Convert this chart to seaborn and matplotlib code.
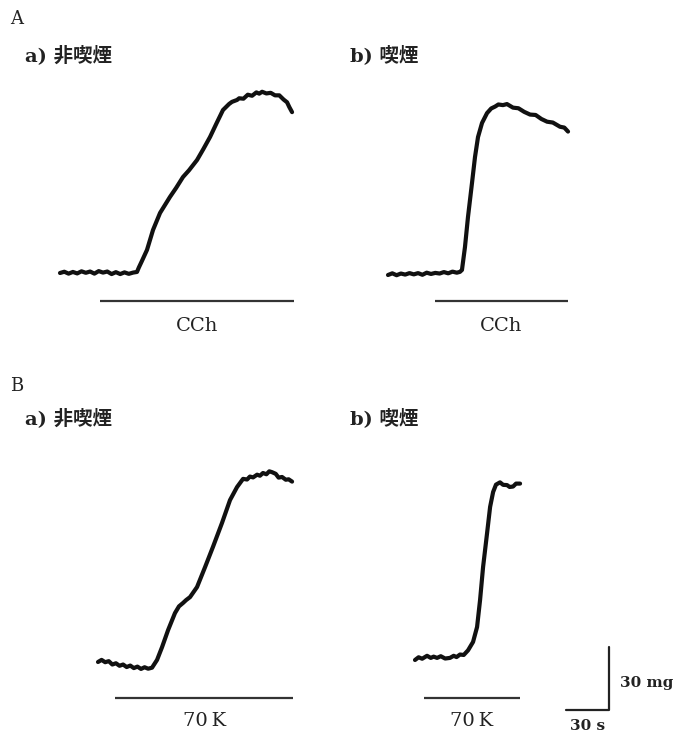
import matplotlib
matplotlib.use("Agg")
import matplotlib.pyplot as plt
import seaborn as sns

# Trazos de tensión (tiempo en s, tensión en mg sobre la línea basal)
a_ns_t = [0, 3, 6, 9, 12, 15, 18, 21, 24, 27, 30, 33, 36, 39, 42, 45, 48, 51, 53.7,
          55, 57, 60.7, 64.9, 69.8, 76.7, 81, 85.8, 90, 95.6, 100, 104.7, 109, 113.7,
          118, 120, 123.5, 125, 128, 131, 134, 137, 139, 141, 144, 147, 150, 153, 156,
          158.4, 160, 161.9]
a_ns_f = [0, 0.6, -0.3, 0.5, -0.2, 0.8, 0.1, 0.7, -0.3, 0.9, 0.2, 0.7, -0.5, 0.4, -0.5, 0.3, -0.4, 0.2, 0.5,
          2.6, 5.5, 11, 20.5, 28.6, 36.2, 40.5, 45.7, 48.9, 53.8, 59, 64.8, 71, 77.6,
          80.5, 81.5, 82.4, 83.2, 83.0, 84.9, 84.4, 86.0, 85.4, 86.3, 85.5, 85.8, 84.6, 84.6, 82.6,
          81.3, 79, 76.6]

a_s_t = [0, 3, 6, 9, 12, 15, 18, 21, 24, 27, 30, 33, 36, 39, 42, 45, 48, 50.2,
         51.6, 53.7, 55.8, 58.6, 60.7, 62.8, 65.6, 69.1, 72, 74.7, 77, 80.2, 83, 87.2,
         91, 95, 99.1, 103, 107, 111, 115, 120, 123, 125.6]
a_s_f = [0, 0.8, -0.1, 0.7, 0.2, 0.9, 0.3, 0.9, 0.1, 1.1, 0.5, 1.0, 0.7, 1.4, 0.8, 1.6, 1.1, 1.5,
         2.4, 13.3, 27.6, 43.8, 56.2, 65.7, 72.4, 77.1, 79.3, 80.2, 81.2, 80.9, 81.4, 79.7,
         79.4, 77.7, 76.4, 76.2, 74.3, 73.0, 72.6, 70.6, 70.2, 68.3]

b_ns_t = [0, 2.5, 5, 7.5, 10, 12.5, 15, 17.5, 20, 22.5, 25, 27.5, 30, 32.5, 35, 37.7,
          41.2, 44.7, 48.9, 53.7, 56.5, 59.3, 61.5, 64.2, 69.1, 74.7, 80.2, 86.5, 92.1, 97,
          101.2, 104, 106, 108.2, 111, 113, 115.1, 117.5, 119.5, 121.4, 124, 126, 128.4,
          131, 133, 135.4]
b_ns_f = [0, 1.0, -0.1, 0.4, -1.2, -0.6, -1.8, -1.2, -2.4, -1.7, -2.9, -2.2, -3.3, -2.5, -3.2, -2.7,
          1, 7.1, 15.2, 23.3, 26.5, 28.1, 29.5, 30.9, 35.7, 45.2, 54.8, 66.2, 77.1, 83.3,
          87.2, 86.9, 88.3, 87.9, 89.2, 88.7, 90.0, 89.4, 90.8, 90.4, 89.6, 87.8, 88.1,
          86.8, 87.0, 85.9]

b_s_t = [0, 2.5, 5, 8.4, 11, 13, 15.4, 18, 21, 24.4, 27, 29, 31.4, 34, 37,
         40.5, 43.3, 45.4, 47.5, 50.3, 52.4, 54.5, 56.5, 59.3, 61.5, 64.2, 66, 68.4, 70.5, 73.3]
b_s_f = [0, 1.3, 0.6, 2.0, 1.0, 1.6, 1.0, 1.8, 0.7, 1.0, 2.0, 1.4, 2.6, 2.4, 4.6,
         8.6, 15.7, 28.6, 44.3, 60.5, 72.9, 80, 83.5, 84.6, 83.4, 83.3, 82.4, 82.6, 84.0, 84.0]

# Periodo de estímulo (s)
stim_a_ns = (27.9, 163.3)
stim_a_s = (32.8, 125.6)
stim_b_ns = (11.9, 136.1)
stim_b_s = (6.3, 73.3)

panel_titles = ["a) 非喫煙", "b) 喫煙", "a) 非喫煙", "b) 喫煙"]
stim_labels = ["CCh", "CCh", "70\u2009K", "70\u2009K"]
scale_s, scale_mg = 30, 30

W, H = 674, 742
S_PX = 30 / 43   # s por pixel
M_PX = 30 / 63   # mg por pixel

sns.set_theme(style="white")
plt.rcParams["font.family"] = ["DejaVu Serif", "Noto Sans CJK JP"]

fig = plt.figure(figsize=(W / 100, H / 100), dpi=100)


# Crear un eje con escala común a partir de un origen en pixeles
def make_axes(x0, y0, box):
    left, top, right, bottom = box
    ax = fig.add_axes([left / W, 1 - bottom / H, (right - left) / W, (bottom - top) / H])
    ax.set_xlim((left - x0) * S_PX, (right - x0) * S_PX)
    ax.set_ylim((y0 - bottom) * M_PX, (y0 - top) * M_PX)
    ax.set_axis_off()
    ax.patch.set_visible(False)
    return ax


panels = [
    (a_ns_t, a_ns_f, stim_a_ns, (60, 273), (40, 70, 320, 345), 301, 326),
    (a_s_t, a_s_f, stim_a_s, (388, 275), (370, 70, 600, 345), 301, 326),
    (b_ns_t, b_ns_f, stim_b_ns, (98, 662), (80, 450, 320, 740), 698, 721),
    (b_s_t, b_s_f, stim_b_s, (415, 660), (395, 450, 540, 740), 698, 721),
]

for i, (t, f, stim, (x0, y0), box, bar_py, lab_py) in enumerate(panels):
    ax = make_axes(x0, y0, box)
    sns.lineplot(x=t, y=f, ax=ax, color="#111111", lw=3.0,
                 solid_joinstyle="round", solid_capstyle="round")
    bar_y = (y0 - bar_py) * M_PX
    ax.hlines(bar_y, stim[0], stim[1], color="#333333", lw=1.6)
    ax.text((stim[0] + stim[1]) / 2, (y0 - lab_py) * M_PX, stim_labels[i],
            ha="center", va="center", fontsize=14, color="#222222")

# Barra de escala
ax = make_axes(566, 710, (550, 630, 674, 742))
ax.plot([0, scale_s, scale_s], [0, 0, scale_mg], color="#222222", lw=1.6)

fig.text(620 / W, 1 - 683 / H, f"{scale_mg} mg", fontsize=11, fontweight="bold",
         va="center", ha="left", color="#222222")
fig.text(588 / W, 1 - 726 / H, f"{scale_s} s", fontsize=11, fontweight="bold",
         va="center", ha="center", color="#222222")

# Rótulos de sección y subtítulos
fig.text(10 / W, 1 - 19 / H, "A", fontsize=13, va="center", color="#222222")
fig.text(10 / W, 1 - 386 / H, "B", fontsize=13, va="center", color="#222222")
title_pos = [(25, 55), (350, 55), (25, 418), (350, 418)]
for (x, y), title in zip(title_pos, panel_titles):
    fig.text(x / W, 1 - y / H, title, fontsize=14, fontweight="bold",
             va="center", color="#222222")

fig.savefig("out.png", dpi=100)
